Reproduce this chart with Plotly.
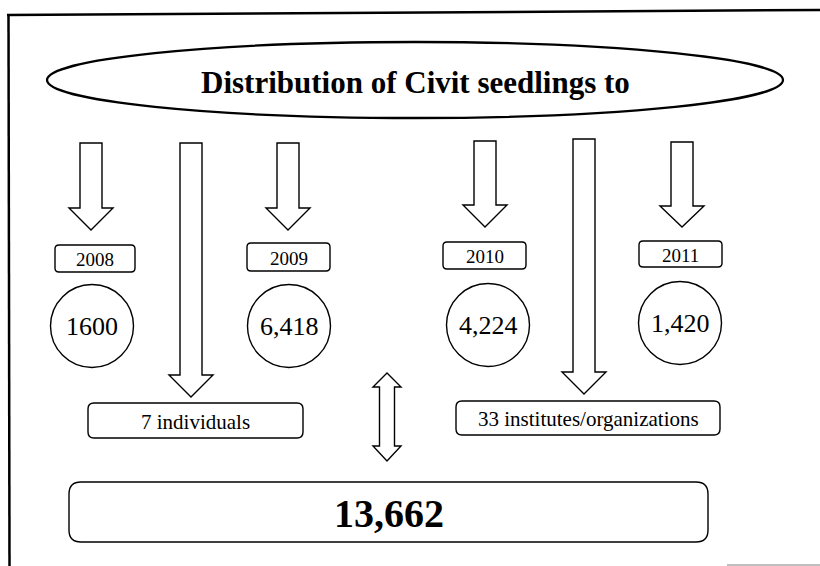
import plotly.graph_objects as go

# ---- data ----
title_text = "Distribution of Civit seedlings to"
years = ["2008", "2009", "2010", "2011"]
seedlings = [1600, 6418, 4224, 1420]
seedling_labels = ["1600", "6,418", "4,224", "1,420"]
recipients = ["7 individuals", "33 institutes/organizations"]
total_seedlings = 13662
total_label = "13,662"

# ---- layout (pixel geometry of the diagram) ----
W, H = 820, 566
SERIF = "Liberation Serif, Times New Roman, serif"
year_cx = [91, 288, 485, 682]
year_arrow_top = [143, 143, 141, 142]
year_arrow_neck = [208, 208, 205, 206]
year_arrow_tip = [230, 230, 227, 227]
year_box = [(55, 245, 135, 272), (247, 243, 330, 271), (443, 242, 526, 269), (639, 241, 722, 267)]
circle_c = [(92, 326), (289, 326), (488, 325), (680, 323)]
circle_r = 41.5
recip_cx = [191, 584]
recip_top = [143, 139]
recip_neck = [375, 372]
recip_tip = [397, 394]
recip_box = [(88, 403, 303, 438), (456, 401, 720, 435)]
total_box = (69, 482, 708, 542)


def down_arrow(cx, top, neck, tip, sw=11, hw=22):
    return (f"M{cx-sw},{top} L{cx+sw},{top} L{cx+sw},{neck} L{cx+hw},{neck} "
            f"L{cx},{tip} L{cx-hw},{neck} L{cx-sw},{neck} Z")


def double_arrow(cx, top, base1, base2, bottom, sw=7.5, hw=14):
    return (f"M{cx},{top} L{cx+hw},{base1} L{cx+sw},{base1} L{cx+sw},{base2} "
            f"L{cx+hw},{base2} L{cx},{bottom} L{cx-hw},{base2} L{cx-sw},{base2} "
            f"L{cx-sw},{base1} L{cx-hw},{base1} Z")


def rrect(x0, y0, x1, y1, r):
    return (f"M{x0+r},{y0} L{x1-r},{y0} Q{x1},{y0} {x1},{y0+r} L{x1},{y1-r} "
            f"Q{x1},{y1} {x1-r},{y1} L{x0+r},{y1} Q{x0},{y1} {x0},{y1-r} "
            f"L{x0},{y0+r} Q{x0},{y0} {x0+r},{y0} Z")


fig = go.Figure()
# invisible trace to anchor axes
fig.add_trace(go.Scatter(x=[0, W], y=[0, H], mode="markers",
                         marker=dict(opacity=0), hoverinfo="skip", showlegend=False))

shapes = []
line = dict(color="black", width=1.4)

# frame
shapes.append(dict(type="line", x0=7, y0=15, x1=W, y1=10, line=dict(color="black", width=2.5)))
shapes.append(dict(type="line", x0=8.5, y0=14, x1=9.5, y1=H, line=dict(color="black", width=2.5)))
shapes.append(dict(type="line", x0=727, y0=H - 1, x1=W, y1=H - 1, line=dict(color="#aaaaaa", width=1.5)))

# title ellipse
shapes.append(dict(type="circle", x0=47, y0=42, x1=783, y1=118,
                   line=dict(color="black", width=2.3), fillcolor="rgba(0,0,0,0)"))

for i, yr in enumerate(years):
    cx = year_cx[i]
    shapes.append(dict(type="path", path=down_arrow(cx, year_arrow_top[i], year_arrow_neck[i], year_arrow_tip[i]),
                       line=line, fillcolor="white"))
    x0, y0, x1, y1 = year_box[i]
    shapes.append(dict(type="path", path=rrect(x0, y0, x1, y1, 4), line=line, fillcolor="white"))
    ccx, ccy = circle_c[i]
    shapes.append(dict(type="circle", x0=ccx - circle_r, y0=ccy - circle_r, x1=ccx + circle_r, y1=ccy + circle_r,
                       line=line, fillcolor="white"))
    fig.add_annotation(x=(x0 + x1) / 2, y=(y0 + y1) / 2 + 1, text=yr, showarrow=False,
                       font=dict(family=SERIF, size=19, color="black"))
    fig.add_annotation(x=ccx, y=ccy, text=seedling_labels[i], showarrow=False,
                       font=dict(family=SERIF, size=26, color="black"))

for i, rc in enumerate(recipients):
    cx = recip_cx[i]
    shapes.append(dict(type="path", path=down_arrow(cx, recip_top[i], recip_neck[i], recip_tip[i]),
                       line=line, fillcolor="white"))
    x0, y0, x1, y1 = recip_box[i]
    shapes.append(dict(type="path", path=rrect(x0, y0, x1, y1, 6), line=line, fillcolor="white"))
    fig.add_annotation(x=(x0 + x1) / 2, y=(y0 + y1) / 2 + 1, text=rc, showarrow=False,
                       font=dict(family=SERIF, size=21, color="black"))

# double arrow
shapes.append(dict(type="path", path=double_arrow(387, 373, 387, 446, 461), line=line, fillcolor="white"))

# total box
x0, y0, x1, y1 = total_box
shapes.append(dict(type="path", path=rrect(x0, y0, x1, y1, 12), line=line, fillcolor="white"))
fig.add_annotation(x=(x0 + x1) / 2, y=(y0 + y1) / 2 + 1, text=f"<b>{total_label}</b>", showarrow=False,
                   font=dict(family=SERIF, size=40, color="black"))

fig.add_annotation(x=415, y=82, text=f"<b>{title_text}</b>", showarrow=False,
                   font=dict(family=SERIF, size=31, color="black"))

fig.update_layout(
    width=W, height=H, autosize=False,
    margin=dict(l=0, r=0, t=0, b=0, pad=0),
    paper_bgcolor="white", plot_bgcolor="white",
    shapes=shapes,
    xaxis=dict(range=[0, W], visible=False, fixedrange=True),
    yaxis=dict(range=[H, 0], visible=False, fixedrange=True),
    showlegend=False,
)
fig.write_html("out.html", config={"displayModeBar": False},
               post_script="document.body.style.margin='0';document.body.style.overflow='hidden';")
